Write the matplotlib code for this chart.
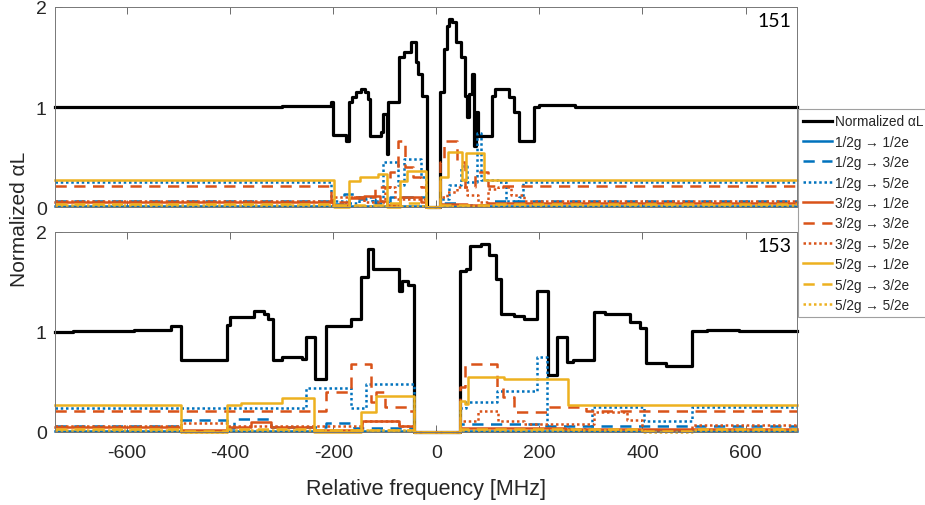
import matplotlib
matplotlib.use("Agg")
import matplotlib.pyplot as plt

plt.rcParams['font.family'] = ['Liberation Sans', 'DejaVu Sans']
plt.rcParams['axes.unicode_minus'] = False

BLUE = '#0072BD'
ORANGE = '#D95319'
YELLOW = '#EDB120'

labels = ['Normalized αL',
          '1/2g → 1/2e', '1/2g → 3/2e', '1/2g → 5/2e',
          '3/2g → 1/2e', '3/2g → 3/2e', '3/2g → 5/2e',
          '5/2g → 1/2e', '5/2g → 3/2e', '5/2g → 5/2e']
panel_names = ['151', '153']
xticks = [-600, -400, -200, 0, 200, 400, 600]
yticks = [0, 1, 2]

# ---------------- Panel 151 (top) ----------------
t_black_x = [-740, -300, -205, -200, -176, -170, -163, -155, -147, -138, -132, -128, -108, -104, -96, -93, -72, -62, -50, -40, -35, -28, -19, 8, 14, 20, 25, 31, 38, 47, 55, 60, 64, 69, 73, 76, 80, 108, 114, 140, 150, 160, 189, 200, 270, 700]
t_black_y = [1.00, 1.01, 1.05, 0.72, 0.66, 1.05, 1.10, 1.15, 1.18, 1.15, 1.08, 0.71, 0.75, 0.93, 0.53, 1.05, 1.50, 1.55, 1.65, 1.45, 1.33, 1.11, 0.00, 1.15, 1.58, 1.81, 1.88, 1.85, 1.65, 1.50, 1.11, 0.90, 1.13, 1.33, 0.61, 0.95, 0.71, 1.11, 1.18, 1.10, 0.95, 0.66, 1.00, 1.02, 1.00, 1.00]

t_b1_x = [-740, -20, 8, 700]
t_b1_y = [0.01, 0.00, 0.01, 0.01]
t_b3_x = [-740, -200, -180, -150, -120, -90, -20, 8, 50, 100, 700]
t_b3_y = [0.06, 0.03, 0.13, 0.08, 0.04, 0.10, 0.00, 0.04, 0.02, 0.06, 0.06]
t_b5_x = [-740, -205, -175, -150, -125, -104, -75, -62, -30, -20, 8, 25, 48, 60, 78, 86, 120, 135, 160, 168, 700]
t_b5_y = [0.25, 0.06, 0.04, 0.10, 0.06, 0.45, 0.22, 0.48, 0.30, 0.00, 0.08, 0.22, 0.41, 0.25, 0.74, 0.27, 0.25, 0.06, 0.10, 0.25, 0.25]
t_o1_x = [-740, -200, -170, -140, -110, -96, -70, -30, -20, 8, 60, 100, 700]
t_o1_y = [0.05, 0.02, 0.09, 0.11, 0.06, 0.02, 0.10, 0.05, 0.00, 0.03, 0.02, 0.04, 0.05]
t_o3_x = [-740, -205, -160, -120, -90, -75, -60, -45, -30, -20, 8, 15, 40, 55, 75, 100, 700]
t_o3_y = [0.21, 0.05, 0.10, 0.20, 0.35, 0.66, 0.40, 0.30, 0.20, 0.00, 0.45, 0.66, 0.45, 0.20, 0.35, 0.21, 0.21]
t_o5_x = [-740, -200, -140, -100, -80, -20, 8, 20, 40, 60, 80, 100, 120, 145, 170, 700]
t_o5_y = [0.06, 0.10, 0.05, 0.20, 0.08, 0.00, 0.10, 0.15, 0.20, 0.12, 0.05, 0.18, 0.20, 0.12, 0.06, 0.06]
t_y1_x = [-740, -199, -170, -148, -113, -96, -70, -57, -20, 8, 22, 50, 58, 92, 700]
t_y1_y = [0.27, 0.00, 0.26, 0.30, 0.33, 0.00, 0.26, 0.36, 0.00, 0.30, 0.55, 0.27, 0.54, 0.27, 0.27]
t_y3_x = [-740, -200, -100, -20, 8, 100, 700]
t_y3_y = [0.03, 0.02, 0.04, 0.00, 0.02, 0.03, 0.03]
t_y5_x = [-740, -200, -20, 8, 100, 700]
t_y5_y = [0.02, 0.01, 0.00, 0.01, 0.02, 0.02]

# ---------------- Panel 153 (bottom) ----------------
b_black_x = [-740, -705, -587, -515, -496, -407, -400, -354, -335, -327, -317, -300, -260, -253, -235, -215, -166, -147, -133, -122, -73, -66, -56, -43, 45, 57, 65, 87, 103, 115, 125, 150, 170, 196, 216, 234, 254, 265, 306, 328, 376, 395, 406, 445, 497, 526, 587, 700]
b_black_y = [1.00, 1.01, 1.02, 1.06, 0.72, 1.07, 1.15, 1.21, 1.18, 1.13, 0.72, 0.75, 0.73, 0.95, 0.53, 1.06, 1.13, 1.55, 1.83, 1.63, 1.41, 1.51, 1.47, 0.00, 1.61, 1.63, 1.86, 1.88, 1.77, 1.53, 1.18, 1.16, 1.13, 1.41, 0.57, 0.95, 0.70, 0.72, 1.20, 1.18, 1.10, 1.04, 0.69, 0.66, 1.01, 1.02, 1.01, 1.01]

b_b1_x = [-740, -43, 45, 700]
b_b1_y = [0.01, 0.00, 0.01, 0.01]
b_b3_x = [-740, -496, -407, -393, -320, -215, -160, -43, 45, 200, 700]
b_b3_y = [0.06, 0.12, 0.04, 0.13, 0.05, 0.09, 0.04, 0.00, 0.08, 0.06, 0.06]
b_b5_x = [-740, -253, -166, -137, -43, 45, 57, 118, 196, 214, 303, 403, 497, 700]
b_b5_y = [0.24, 0.44, 0.24, 0.48, 0.00, 0.24, 0.30, 0.41, 0.75, 0.03, 0.25, 0.11, 0.25, 0.25]
b_o1_x = [-740, -496, -407, -360, -320, -237, -145, -73, -43, 45, 250, 700]
b_o1_y = [0.05, 0.02, 0.05, 0.10, 0.05, 0.02, 0.11, 0.06, 0.00, 0.04, 0.03, 0.03]
b_o3_x = [-740, -215, -166, -127, -117, -100, -55, -43, 45, 55, 118, 130, 150, 216, 290, 700]
b_o3_y = [0.21, 0.40, 0.68, 0.30, 0.40, 0.25, 0.21, 0.00, 0.45, 0.68, 0.45, 0.35, 0.20, 0.25, 0.21, 0.21]
b_o5_x = [-740, -496, -407, -145, -73, -43, 45, 80, 120, 170, 306, 370, 400, 497, 700]
b_o5_y = [0.06, 0.09, 0.06, 0.11, 0.06, 0.00, 0.11, 0.21, 0.11, 0.08, 0.20, 0.12, 0.02, 0.07, 0.07]
b_y1_x = [-740, -496, -407, -380, -300, -237, -147, -118, -43, 45, 55, 62, 131, 255, 700]
b_y1_y = [0.27, 0.00, 0.27, 0.29, 0.34, 0.00, 0.20, 0.36, 0.00, 0.31, 0.28, 0.55, 0.53, 0.27, 0.27]
b_y3_x = [-740, -496, -407, -237, -43, 45, 403, 497, 700]
b_y3_y = [0.03, 0.01, 0.03, 0.02, 0.00, 0.03, 0.01, 0.03, 0.03]
b_y5_x = [-740, -496, -407, -43, 45, 403, 497, 700]
b_y5_y = [0.02, 0.00, 0.02, 0.00, 0.02, 0.00, 0.02, 0.02]

panels = [
    [(t_black_x, t_black_y), (t_b1_x, t_b1_y), (t_b3_x, t_b3_y), (t_b5_x, t_b5_y),
     (t_o1_x, t_o1_y), (t_o3_x, t_o3_y), (t_o5_x, t_o5_y),
     (t_y1_x, t_y1_y), (t_y3_x, t_y3_y), (t_y5_x, t_y5_y)],
    [(b_black_x, b_black_y), (b_b1_x, b_b1_y), (b_b3_x, b_b3_y), (b_b5_x, b_b5_y),
     (b_o1_x, b_o1_y), (b_o3_x, b_o3_y), (b_o5_x, b_o5_y),
     (b_y1_x, b_y1_y), (b_y3_x, b_y3_y), (b_y5_x, b_y5_y)],
]

DASH = (0, (4.5, 3))
DOT = (0, (1, 1.1))
styles = [('black', '-', 2.3)] + [
    (c, ls, 1.8) for c in (BLUE, ORANGE, YELLOW) for ls in ('-', DASH, DOT)
]

fig = plt.figure(figsize=(9.25, 5.06), dpi=100)
axes = [fig.add_axes([0.0595, 0.5889, 0.8022, 0.3953]),
        fig.add_axes([0.0595, 0.1443, 0.8022, 0.3953])]

TXT = '#262626'
handles = []
for i, ax in enumerate(axes):
    for j, ((xs, ys), (c, ls, lw)) in enumerate(zip(panels[i], styles)):
        ln, = ax.step(xs, ys, where='post', color=c, linestyle=ls, linewidth=lw,
                      clip_on=False, label=labels[j])
        if i == 0:
            handles.append(ln)
    ax.set_xlim(-740, 700)
    ax.set_ylim(0, 2)
    ax.set_xticks(xticks)
    ax.set_yticks(yticks)
    ax.tick_params(direction='in', length=5, width=0.6, top=True, right=True,
                   labelsize=14, colors=TXT, color='#555555')
    ax.tick_params(axis='x', pad=9)
    ax.tick_params(axis='y', pad=6)
    for s in ax.spines.values():
        s.set_color('#777777')
        s.set_linewidth(0.7)
    ax.text(0.992, 0.975, panel_names[i], transform=ax.transAxes, ha='right', va='top',
            fontsize=14, family=['Lato', 'DejaVu Sans'], color='black')

axes[0].tick_params(labelbottom=False)

fig.text(0.021, 0.567, 'Normalized αL', rotation=90, ha='center', va='center',
         fontsize=15, color=TXT)
fig.text(426 / 925, 1 - 490 / 506, 'Relative frequency [MHz]', ha='center', va='center',
         fontsize=15.5, color=TXT)

leg = fig.legend(handles=handles, labels=labels, loc='upper left',
                 bbox_to_anchor=(798 / 925, 1 - 110 / 506), bbox_transform=fig.transFigure,
                 borderaxespad=0, fontsize=9.8, frameon=True, fancybox=False,
                 edgecolor='#888888', handlelength=2.1, handletextpad=0.25,
                 labelspacing=0.47, borderpad=0.4)
leg.get_frame().set_linewidth(0.8)
for t in leg.get_texts():
    t.set_color(TXT)

fig.savefig('out.png', dpi=100)
